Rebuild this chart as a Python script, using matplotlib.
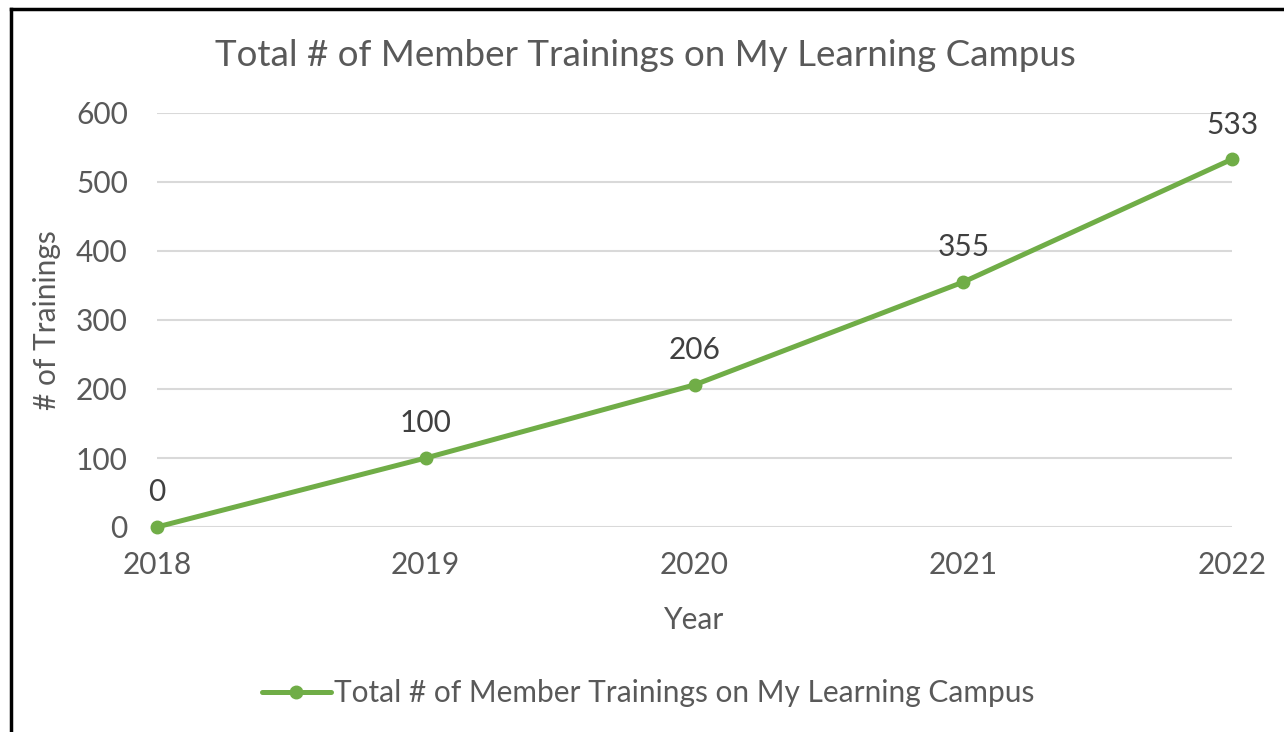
import matplotlib.pyplot as plt

years = ['2018', '2019', '2020', '2021', '2022']
trainings = [0, 100, 206, 355, 533]
series_name = 'Total # of Member Trainings on My Learning Campus'

plt.rcParams['font.family'] = ['Lato', 'DejaVu Sans']

green = '#70AD47'
grey_text = '#595959'

fig = plt.figure(figsize=(12.84, 7.32), dpi=100)
ax = fig.add_axes([157/1284, 1 - 527/732, (1232 - 157)/1284, (527 - 113)/732])

x = list(range(len(years)))
ax.plot(x, trainings, color=green, lw=3.6, marker='o', ms=9,
        solid_capstyle='round', label=series_name, zorder=3, clip_on=False)

for xi, v in zip(x, trainings):
    ax.annotate(str(v), (xi, v), xytext=(0, 25), textcoords='offset points',
                ha='center', va='center', fontsize=21.5, color='#404040')

ax.set_xlim(0, len(years) - 1)
ax.set_ylim(0, 600)
ax.set_yticks(range(0, 601, 100))
ax.set_xticks(x)
ax.set_xticklabels(years)
ax.tick_params(axis='both', length=0, labelsize=21.5, labelcolor=grey_text)
ax.tick_params(axis='y', pad=21)
ax.tick_params(axis='x', pad=17)
for s in ax.spines.values():
    s.set_visible(False)
ax.grid(axis='y', color='#d9d9d9', lw=1.5)
ax.set_axisbelow(True)

ax.set_xlabel('Year', fontsize=21.5, color=grey_text)
ax.xaxis.set_label_coords(0.5, -0.19)
ax.set_ylabel('# of Trainings', fontsize=21.5, color=grey_text)
ax.yaxis.set_label_coords(-0.089, 0.5)

fig.text(645/1284, 1 - 55/732, series_name, ha='center', va='center',
         fontsize=26.5, color=grey_text)

leg = fig.legend(loc='center', bbox_to_anchor=(648/1284, 1 - 693/732),
                 frameon=False, fontsize=21.5, handlelength=2.3, handletextpad=0.1,
                 labelcolor=grey_text)

# black frame lines on left and top (rest cropped)
fig.add_artist(plt.Line2D([11/1284, 11/1284], [0, 1 - 9/732], color='black', lw=2.5))
fig.add_artist(plt.Line2D([11/1284, 1], [1 - 9/732, 1 - 9/732], color='black', lw=2.5))

fig.savefig('out.png', dpi=100)
